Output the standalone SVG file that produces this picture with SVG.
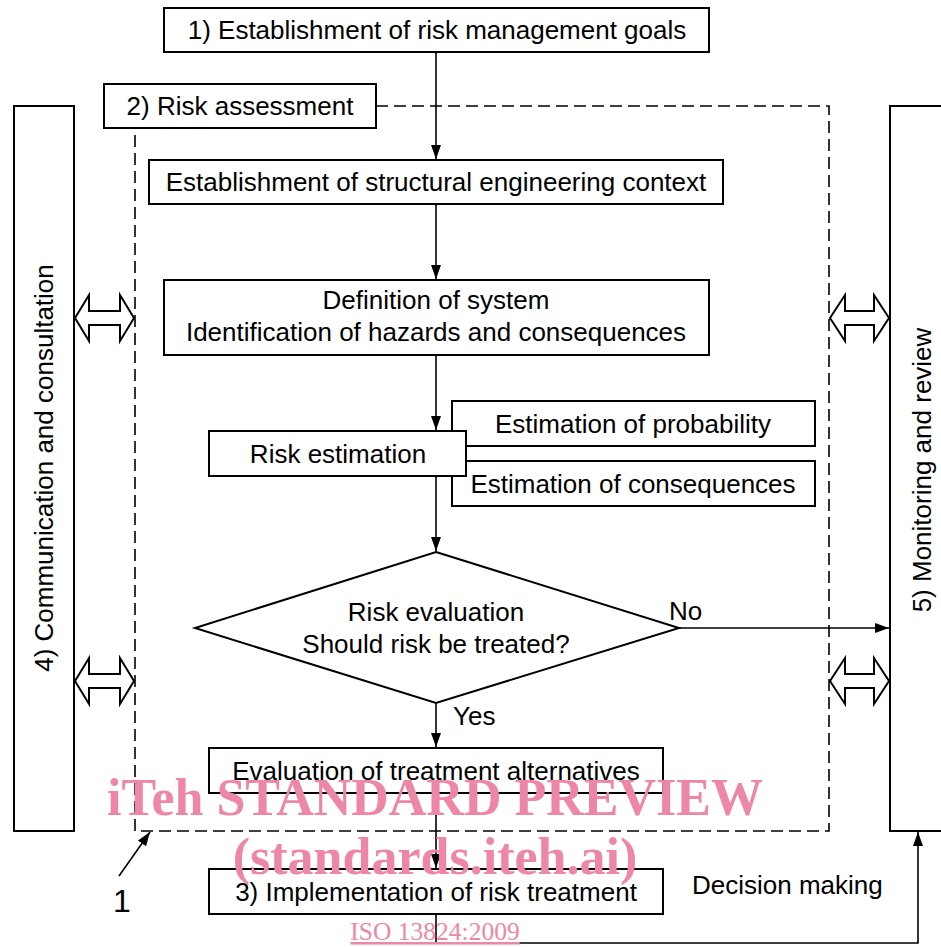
<svg xmlns="http://www.w3.org/2000/svg" width="941" height="947" viewBox="0 0 941 947">
<style>
.b{fill:#fff;stroke:#000;stroke-width:2}
.t{font-family:"Liberation Sans",Arial,sans-serif;font-size:26px;fill:#000}
.c{text-anchor:middle}
.l{fill:none;stroke:#000;stroke-width:1.6}
.d{fill:none;stroke:#000;stroke-width:1.6;stroke-dasharray:12 6}
.da{fill:#fff;stroke:#000;stroke-width:2;stroke-linejoin:miter}
.w{font-family:"Liberation Serif","Times New Roman",serif;font-weight:bold;fill:#ee87a6;text-anchor:middle}
</style>
<defs>
<marker id="ah" markerWidth="14" markerHeight="10" refX="14" refY="5" orient="auto" markerUnits="userSpaceOnUse">
<path d="M0,0 L14,5 L0,10 Z" fill="#000"/>
</marker>
</defs>
<g id="frame">
<path class="d" d="M376,106 H829 V831 H135 V128"/>
</g>
<g id="connectors">
<line class="l" x1="436" y1="52" x2="436" y2="159" marker-end="url(#ah)"/>
<line class="l" x1="436" y1="204" x2="436" y2="279" marker-end="url(#ah)"/>
<line class="l" x1="436" y1="355" x2="436" y2="430" marker-end="url(#ah)"/>
<line class="l" x1="436" y1="476" x2="436" y2="551" marker-end="url(#ah)"/>
<line class="l" x1="679" y1="628" x2="889" y2="628" marker-end="url(#ah)"/>
<line class="l" x1="436" y1="703" x2="436" y2="747" marker-end="url(#ah)"/>
<line class="l" x1="436" y1="793" x2="436" y2="868" marker-end="url(#ah)"/>
<polyline class="l" points="436,914 436,943 918,943 918,832" marker-end="url(#ah)"/>
<line class="l" x1="119" y1="876" x2="150" y2="832" marker-end="url(#ah)"/>
<path class="da" d="M75,318 L89,295 L89,311 L120,311 L120,295 L134,318 L120,341 L120,325 L89,325 L89,341 Z"/>
<path class="da" d="M75,681 L89,658 L89,674 L120,674 L120,658 L134,681 L120,704 L120,688 L89,688 L89,704 Z"/>
<path class="da" d="M830,318 L845,295 L845,311 L874,311 L874,295 L889,318 L874,341 L874,325 L845,325 L845,341 Z"/>
<path class="da" d="M830,681 L845,658 L845,674 L874,674 L874,658 L889,681 L874,704 L874,688 L845,688 L845,704 Z"/>
</g>
<g id="goals">
<rect class="b" x="164" y="8" width="545" height="44"/>
<text class="t c" x="437" y="39">1) Establishment of risk management goals</text>
</g>
<g id="assessment">
<rect class="b" x="104" y="84" width="272" height="44"/>
<text class="t c" x="240" y="115">2) Risk assessment</text>
</g>
<g id="communication">
<rect class="b" x="14" y="106" width="60" height="725"/>
<text class="t c" transform="translate(53,468) rotate(-90)">4) Communication and consultation</text>
</g>
<g id="monitoring">
<rect class="b" x="890" y="106" width="70" height="725"/>
<text class="t c" transform="translate(931,470) rotate(-90)">5) Monitoring and review</text>
</g>
<g id="context">
<rect class="b" x="149" y="160" width="574" height="44"/>
<text class="t c" x="436" y="191">Establishment of structural engineering context</text>
</g>
<g id="definition">
<rect class="b" x="164" y="280" width="545" height="75"/>
<text class="t c" x="436" y="309">Definition of system</text>
<text class="t c" x="436" y="341">Identification of hazards and consequences</text>
</g>
<g id="probability">
<rect class="b" x="452" y="401" width="363" height="45"/>
<text class="t c" x="633" y="433">Estimation of probability</text>
</g>
<g id="consequences">
<rect class="b" x="452" y="461" width="363" height="45"/>
<text class="t c" x="633" y="493">Estimation of consequences</text>
</g>
<g id="estimation">
<rect class="b" x="209" y="431" width="257" height="45"/>
<text class="t c" x="338" y="463">Risk estimation</text>
</g>
<g id="evaluation">
<polygon class="b" points="436,552 679,628 436,703 195,628"/>
<text class="t c" x="436" y="621">Risk evaluation</text>
<text class="t c" x="436" y="653">Should risk be treated?</text>
</g>
<text class="t" x="669" y="620">No</text>
<text class="t" x="453" y="725">Yes</text>
<g id="alternatives">
<rect class="b" x="209" y="748" width="454" height="45"/>
<text class="t c" x="436" y="780">Evaluation of treatment alternatives</text>
</g>
<g id="implementation">
<rect class="b" x="209" y="869" width="454" height="45"/>
<text class="t c" x="436" y="901">3) Implementation of risk treatment</text>
</g>
<text class="t" x="692" y="894">Decision making</text>
<text class="t" x="113" y="912" style="font-size:32px">1</text>
<g id="watermark">
<text class="w" x="435" y="815" style="font-size:52px">iTeh STANDARD PREVIEW</text>
<text class="w" x="435" y="874" style="font-size:52px">(standards.iteh.ai)</text>
<text x="435" y="940" style="font-family:'Liberation Serif','Times New Roman',serif;font-size:25.5px;fill:#ee87a6;text-anchor:middle;text-decoration:underline">ISO 13824:2009</text>
</g>
</svg>
